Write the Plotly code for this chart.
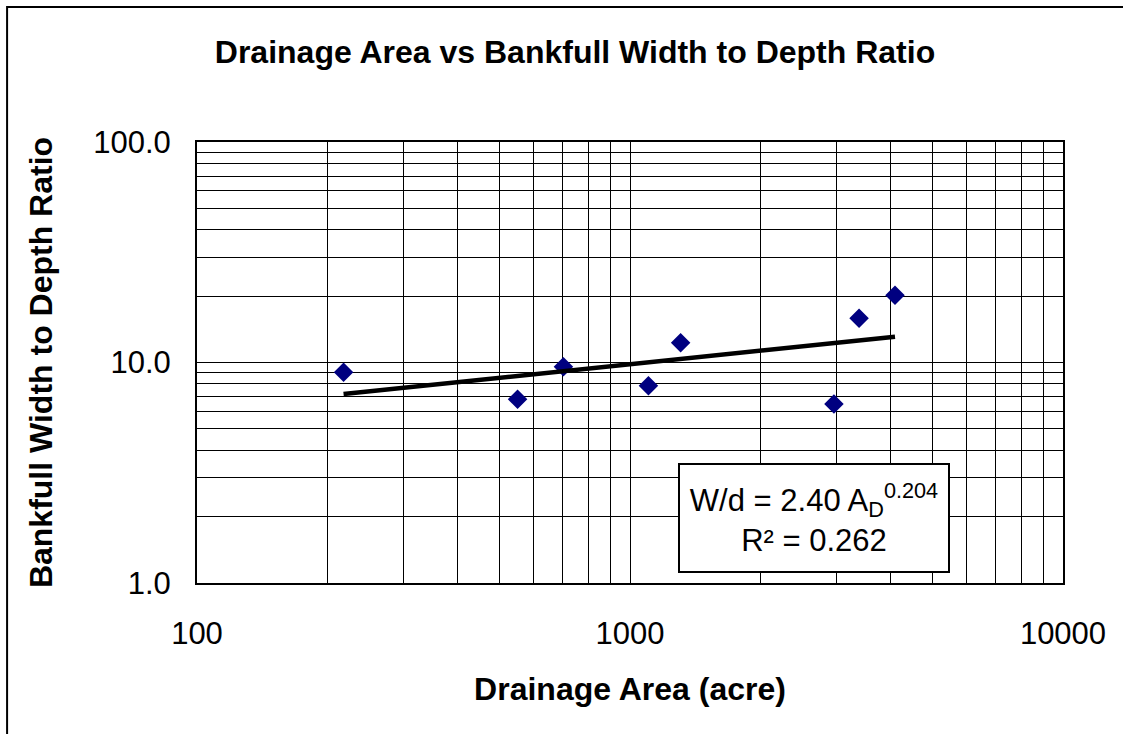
import plotly.graph_objects as go

# drainage area (acre) and bankfull width/depth ratio
area = [218, 550, 702, 1103, 1309, 2958, 3381, 4093]
wd_ratio = [9.03, 6.81, 9.57, 7.85, 12.3, 6.48, 15.86, 20.2]

# power trendline shown on the chart: W/d = 2.40 * A^0.204
coef = 2.40
expo = 0.204
trend_x = [min(area), max(area)]
trend_y = [coef * a ** expo for a in trend_x]

x_ticks = [100, 1000, 10000]
x_ticktext = ["100", "1000", "10000"]
y_ticks = [1, 10, 100]
y_ticktext = ["1.0", "10.0", "100.0"]

x_minor = [m * 10 ** k for k in (2, 3) for m in range(2, 10)]
y_minor = [m * 10 ** k for k in (0, 1) for m in range(2, 10)]

font = "Liberation Sans, Arial, sans-serif"

fig = go.Figure()
fig.add_trace(go.Scatter(x=area, y=wd_ratio, mode="markers",
                         marker=dict(symbol="diamond", size=15, color="#000080"),
                         showlegend=False))
fig.add_trace(go.Scatter(x=trend_x, y=trend_y, mode="lines",
                         line=dict(color="black", width=4.5),
                         showlegend=False))

axis_common = dict(type="log", showline=True, linecolor="black", linewidth=2,
                   mirror=True, showgrid=True, gridcolor="black", gridwidth=1,
                   ticks="", zeroline=False,
                   tickfont=dict(family=font, size=31, color="black"))

fig.update_xaxes(range=[2, 4], tickmode="array", tickvals=x_ticks,
                 ticktext=x_ticktext, ticklabelstandoff=22,
                 minor=dict(tickmode="array", tickvals=x_minor, showgrid=True,
                            gridcolor="black", gridwidth=1, ticks=""),
                 title=dict(text="<b>Drainage Area (acre)</b>", standoff=27,
                            font=dict(family=font, size=32, color="black")),
                 **axis_common)
fig.update_yaxes(range=[0, 2], tickmode="array", tickvals=y_ticks,
                 ticktext=y_ticktext, ticklabelstandoff=18,
                 minor=dict(tickmode="array", tickvals=y_minor, showgrid=True,
                            gridcolor="black", gridwidth=1, ticks=""),
                 title=dict(text="<b>Bankfull Width to Depth Ratio</b>", standoff=31,
                            font=dict(family=font, size=32, color="black")),
                 **axis_common)

fig.add_annotation(xref="paper", yref="paper", x=0.712, y=0.148,
                   xanchor="center", yanchor="middle",
                   text="W/d = 2.40 A<sub>D</sub><sup>0.204</sup><br>R² = 0.262",
                   showarrow=False, align="center",
                   font=dict(family=font, size=31, color="black"),
                   bgcolor="white", bordercolor="black", borderwidth=2,
                   borderpad=2, width=264, height=102)

# outer chart-area border (right and bottom edges fall outside the picture)
fig.add_shape(type="rect", xref="paper", yref="paper",
              x0=-0.2193, x1=1.5, y0=-1.0, y1=1.3061,
              line=dict(color="black", width=2))

fig.update_layout(
    width=1123, height=734,
    margin=dict(l=197, r=60, t=142, b=151),
    paper_bgcolor="white", plot_bgcolor="white",
    title=dict(text="<b>Drainage Area vs Bankfull Width to Depth Ratio</b>",
               x=575 / 1123, xanchor="center", y=1 - 52 / 734, yanchor="middle",
               font=dict(family=font, size=32, color="black")),
)

fig.write_html("out.html", config={"displayModeBar": False},
               post_script="document.body.style.margin='0';"
                           "document.body.style.overflow='hidden';")
